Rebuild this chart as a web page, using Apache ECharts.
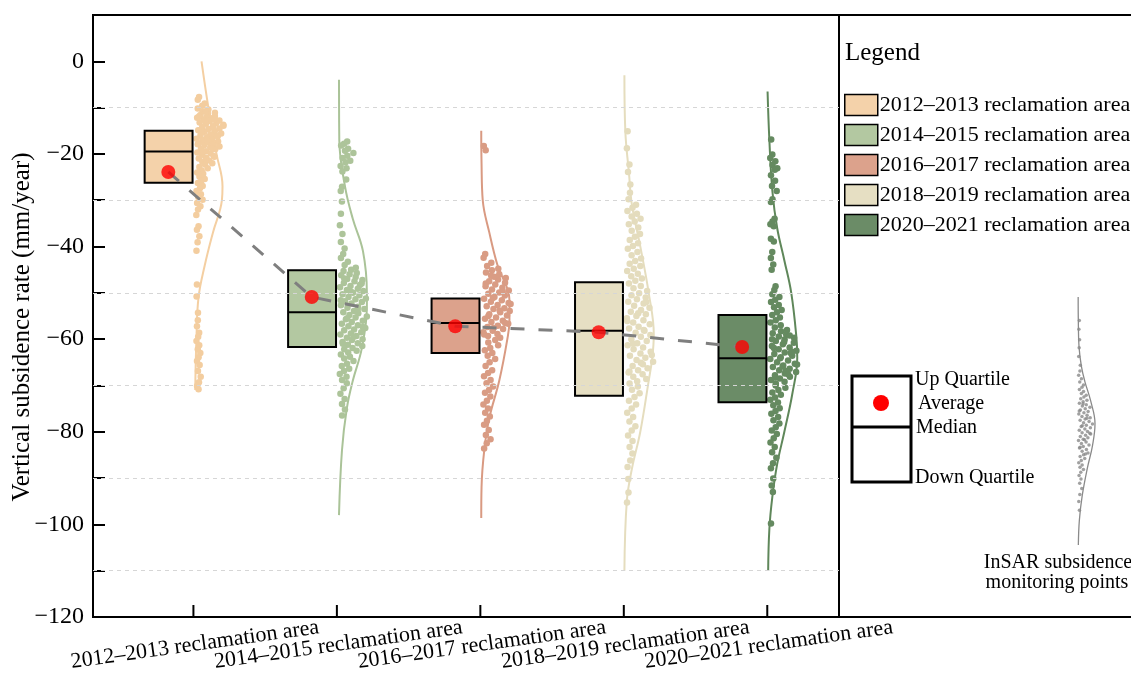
<!DOCTYPE html>
<html>
<head>
<meta charset="utf-8">
<script src="https://cdn.jsdelivr.net/npm/echarts@6/dist/echarts.min.js"></script>
<style>
  html, body { margin: 0; padding: 0; background: #fff; }
  #chart { width: 1131px; height: 684px; }
</style>
</head>
<body>
<div id="chart"></div>
<script>
// ---- data ----
const categories = [
  '2012\u20132013 reclamation area',
  '2014\u20132015 reclamation area',
  '2016\u20132017 reclamation area',
  '2018\u20132019 reclamation area',
  '2020\u20132021 reclamation area'
];
const boxColors   = ['#f4d2aa', '#b3c8a1', '#dca28c', '#e6dfc3', '#6b8c67'];
const pointColors = ['#f3cd9f', '#adc49a', '#d99c84', '#e4dcbd', '#658a60'];
const curveColors = ['#f4cfa2', '#aac398', '#d99a82', '#e5ddbe', '#5f875a'];

// box statistics (mm/year)
const upQuartile   = [-15.0, -45.1, -51.2, -47.7, -54.8];
const medians      = [-19.5, -54.2, -56.5, -58.2, -64.1];
const downQuartile = [-26.2, -61.7, -63.0, -72.2, -73.6];
const averages     = [-23.9, -50.9, -57.2, -58.5, -61.7];

// y-axis levels carrying the dashed guide lines
const guideLevels = [-10, -30, -50, -70, -90, -110];

// monitoring points, subsidence rate (mm/year)
const points2012 = [
  -7.7, -8.3, -9.1, -9.6, -10.2, -10.4, -10.9, -11.1, -11.3, -11.6, -11.8, -12.0, -12.2, -12.3,
  -12.6, -12.8, -12.9, -13.2, -13.4, -13.5, -13.9, -14.0, -14.2, -14.5, -14.6, -14.9, -15.1,
  -15.2, -15.6, -15.8, -16.0, -16.1, -16.4, -16.7, -16.8, -17.0, -17.3, -17.4, -17.7, -18.0,
  -18.1, -18.4, -18.6, -18.9, -19.0, -19.4, -19.7, -19.9, -20.2, -20.5, -20.8, -21.0, -21.4,
  -21.7, -22.0, -22.3, -22.8, -23.1, -23.6, -24.0, -24.3, -24.9, -25.4, -25.8, -26.3, -26.9,
  -27.4, -28.0, -28.7, -29.3, -29.9, -10.8, -11.9, -12.5, -13.1, -13.7, -14.3, -15.4, -16.2,
  -17.1, -17.9, -18.8, -19.5, -20.6, -21.2, -30.6, -31.3, -32.0, -33.2, -35.6, -36.4, -37.8,
  -39.1, -40.9, -48.2, -50.8, -54.3, -55.9, -57.2, -58.6, -59.5, -60.4, -61.3, -62.2, -63.0,
  -63.9, -64.7, -65.6, -66.9, -68.1, -69.3, -70.1, -70.8
];
const points2014 = [
  -17.3, -17.8, -18.2, -18.9, -19.3, -19.8, -20.4, -20.9, -21.5, -21.8, -22.6, -23.1, -23.8,
  -25.5, -27.1, -28.0, -30.3, -32.9, -35.4, -37.3, -39.0, -40.4, -41.6, -42.5, -43.3, -44.0,
  -44.6, -45.0, -45.3, -45.7, -46.0, -46.2, -46.6, -47.0, -47.2, -47.5, -47.9, -48.3, -48.5,
  -48.8, -49.1, -49.4, -49.6, -50.0, -50.3, -50.5, -50.9, -51.2, -51.4, -51.8, -52.0, -52.3,
  -52.7, -53.0, -53.2, -53.5, -53.9, -54.2, -54.4, -54.8, -55.1, -55.3, -55.7, -56.0, -56.3,
  -56.7, -57.0, -57.2, -57.6, -57.9, -58.1, -58.5, -58.8, -59.0, -59.3, -59.7, -60.0, -60.2,
  -60.6, -60.9, -61.2, -61.5, -61.9, -62.2, -62.5, -62.9, -63.3, -63.8, -64.2, -64.7, -65.3,
  -65.8, -66.4, -66.9, -67.5, -68.1, -68.8, -69.5, -70.6, -71.8, -72.9, -74.0, -75.2, -76.5,
  -46.9, -48.0, -49.8, -51.6, -53.6, -55.5, -57.4, -59.5, -61.0
];
const points2016 = [
  -18.3, -19.2, -41.6, -42.4, -43.5, -44.2, -44.8, -45.1, -45.6, -46.0, -46.3, -46.8, -47.1,
  -47.5, -47.8, -48.2, -48.6, -48.9, -49.3, -49.5, -49.9, -50.2, -50.6, -50.9, -51.3, -51.6,
  -51.9, -52.2, -52.6, -52.9, -53.3, -53.5, -53.9, -54.2, -54.6, -54.9, -55.3, -55.6, -56.0,
  -56.3, -56.7, -57.1, -57.4, -57.8, -58.2, -58.5, -58.9, -59.3, -59.7, -46.5, -48.0, -49.7,
  -51.1, -52.4, -53.8, -55.0, -56.5, -57.6, -59.0, -60.2, -60.7, -61.3, -61.9, -62.4, -63.0,
  -63.6, -64.3, -65.0, -65.8, -66.7, -67.3, -68.0, -68.8, -69.5, -70.2, -71.0, -71.6, -72.4,
  -73.3, -74.1, -75.0, -75.9, -76.7, -77.6, -78.5, -79.6, -80.7, -81.6, -82.5, -83.6
];
const points2018 = [
  -15.1, -18.8, -22.3, -23.9, -26.6, -28.4, -29.8, -31.0, -31.6, -32.3, -32.9, -33.5, -34.0,
  -34.6, -35.2, -35.9, -36.6, -37.3, -37.9, -38.6, -39.3, -39.9, -40.5, -41.2, -41.9, -42.6,
  -43.1, -43.7, -44.2, -44.8, -45.3, -45.9, -46.4, -46.9, -47.4, -48.0, -48.5, -49.0, -49.6,
  -50.1, -50.5, -51.0, -51.4, -51.9, -52.3, -52.8, -53.2, -53.7, -54.1, -54.6, -55.0, -55.5,
  -55.9, -56.4, -56.8, -57.3, -57.7, -58.2, -58.6, -59.1, -59.5, -60.0, -60.4, -60.9, -61.3,
  -61.8, -62.2, -62.7, -63.1, -63.6, -64.0, -64.5, -64.9, -65.4, -65.8, -66.3, -66.7, -67.2,
  -67.6, -68.1, -68.6, -69.1, -69.6, -52.0, -54.4, -56.1, -58.0, -61.0, -63.4, -65.1, -67.0,
  -70.2, -70.9, -71.7, -72.5, -73.3, -74.1, -75.0, -75.9, -76.8, -77.8, -78.8, -79.7, -80.8,
  -82.0, -83.3, -84.7, -86.2, -87.6, -90.2, -93.1, -95.3
];
const points2020 = [
  -16.9, -20.1, -20.9, -21.6, -22.4, -23.1, -23.4, -24.6, -25.8, -26.9, -28.0, -29.8, -30.4,
  -34.0, -34.6, -35.2, -35.6, -38.3, -38.9, -41.2, -42.5, -43.9, -45.0, -48.6, -49.4, -50.3,
  -50.9, -51.5, -52.0, -52.6, -53.1, -53.7, -54.2, -54.8, -55.3, -55.9, -56.4, -57.0, -57.5,
  -58.0, -58.3, -58.7, -59.0, -59.4, -59.7, -60.1, -60.4, -60.8, -61.1, -61.5, -61.8, -62.2,
  -62.5, -62.9, -63.2, -63.6, -63.9, -64.3, -64.6, -65.0, -65.3, -65.7, -66.0, -66.4, -66.7,
  -67.1, -67.4, -67.8, -68.1, -68.5, -68.8, -69.2, -69.6, -59.2, -60.6, -61.9, -63.0, -64.1,
  -65.5, -66.9, -68.3, -62.7, -65.9, -60.0, -67.6, -70.0, -70.5, -71.0, -71.5, -72.0, -72.6,
  -73.1, -73.7, -74.3, -74.9, -75.5, -76.1, -76.8, -77.5, -78.2, -79.0, -79.7, -80.5, -81.4,
  -82.3, -83.3, -84.4, -85.6, -86.8, -87.9, -90.1, -91.6, -93.0, -99.8
];

// half-violin outlines: [rate, relative density]
const density2012 = [[0, 0.27], [-10, 0.5], [-20, 0.77], [-27, 0.97], [-30, 0.95], [-37, 0.65],
  [-44, 0.38], [-51, 0.17], [-60, 0.1], [-71, 0.06]];
const density2014 = [[-4, 0.07], [-17, 0.08], [-27, 0.27], [-34, 0.53], [-41, 0.87], [-50, 1.0],
  [-53, 1.0], [-62, 0.83], [-69, 0.53], [-75, 0.33], [-84, 0.17], [-98, 0.07]];
const density2016 = [[-15, 0.03], [-22, 0.04], [-30, 0.08], [-37, 0.3], [-44, 0.57], [-51.5, 0.97],
  [-56, 0.97], [-60, 0.9], [-69, 0.63], [-77, 0.3], [-84, 0.13], [-92, 0.04], [-98.6, 0.03]];
const density2018 = [[-3, 0.02], [-15, 0.05], [-24, 0.17], [-31, 0.27], [-40, 0.55], [-50, 0.83],
  [-59, 1.0], [-64, 0.95], [-69, 0.83], [-80, 0.55], [-88, 0.27], [-95, 0.1], [-110, 0.02]];
const density2020 = [[-6.5, 0.01], [-17, 0.07], [-28, 0.17], [-36, 0.33], [-43, 0.57], [-50, 0.8],
  [-59.5, 0.97], [-64, 1.0], [-72, 0.83], [-80, 0.57], [-87, 0.33], [-94, 0.17], [-101, 0.07], [-110, 0.03]];

// key sample drawn in the legend panel
const samplePoints = [
  -9.5, -13.0, -17.2, -20.5, -24.0, -27.5, -29.8, -31.6, -33.0, -34.3, -35.5, -36.4, -37.3, -38.1,
  -38.9, -39.6, -40.3, -41.0, -41.6, -42.2, -42.8, -43.4, -44.0, -44.5, -45.1, -45.6, -46.2, -46.7,
  -47.2, -47.7, -48.2, -48.7, -49.2, -49.7, -50.2, -50.7, -51.2, -51.7, -52.2, -52.7, -53.2, -53.7,
  -54.2, -54.7, -55.2, -55.7, -56.3, -56.8, -57.4, -57.9, -58.5, -59.1, -59.7, -60.3, -60.9, -61.5,
  -62.2, -62.9, -63.6, -64.3, -65.1, -65.9, -66.8, -67.7, -68.6, -69.6, -70.7, -72.0, -73.4, -75.1,
  -77.2, -79.6, -82.5, -86.0, -43.0, -46.0, -48.9, -51.9, -54.9, -57.6, -60.6, -63.3
];
const sampleDensity = [[0, 0.01], [-10, 0.02], [-20, 0.06], [-28, 0.2], [-34, 0.4], [-42, 0.75],
  [-51, 1.0], [-60, 0.85], [-69, 0.55], [-80, 0.25], [-90, 0.08], [-100, 0.02]];

// ---- layout constants ----
const FONT = '"Liberation Serif", "Times New Roman", serif';
const Y_MIN = -120, Y_MAX = 10;
const BOX_LEFT = 0.34;     // box spans [pos - BOX_LEFT, pos - BOX_RIGHT]
const BOX_RIGHT = 0.006;
const MEAN_SHIFT = 0.175;  // average marker sits in the middle of the box
const CURVE_W = 0.209;     // width of the half-violin at peak density
const SWARM_W = 0.2;       // max horizontal spread of the point cloud
const SWARM_MIN = 0.02;
const LABEL_ROTATE = 8;    // degrees, category labels under the axis

const groups = [points2012, points2014, points2016, points2018, points2020];
const densities = [density2012, density2014, density2016, density2018, density2020];

// spread points sideways in proportion to how crowded their neighbourhood is
function swarm(values, pos, seed, width, minOff) {
  const counts = values.map(v => values.filter(w => Math.abs(w - v) <= 2.5).length);
  const maxN = Math.max.apply(null, counts);
  return values.map((v, i) => {
    const u = ((i + 1) * 0.6180339887 + seed) % 1;
    return [pos + minOff + u * width * counts[i] / maxN, v];
  });
}

const series = [];

// dashed guide lines
series.push({
  type: 'line', data: [], z: 0, silent: true,
  markLine: {
    silent: true, symbol: ['none', 'none'], label: { show: false },
    lineStyle: { color: '#d6d6d6', type: [4, 4], width: 1 },
    emphasis: { disabled: true },
    data: guideLevels.map(v => ({ yAxis: v }))
  }
});

// category ticks and slanted labels along the bottom edge
series.push({
  type: 'custom', z: 6, silent: true, clip: false,
  data: categories.map((c, i) => [i + 1]),
  encode: { x: 0 },
  renderItem: function (params, api) {
    const p = api.coord([api.value(0), Y_MIN]);
    return {
      type: 'group',
      children: [
        { type: 'line', shape: { x1: p[0], y1: p[1], x2: p[0], y2: p[1] - 12 },
          style: { stroke: '#000', lineWidth: 2 } },
        { type: 'text', x: p[0], y: p[1] + 17, rotation: LABEL_ROTATE * Math.PI / 180,
          style: { text: categories[params.dataIndex], font: '22px ' + FONT, fill: '#000',
                   align: 'center', verticalAlign: 'top' } }
      ]
    };
  }
});

groups.forEach((vals, i) => {
  const pos = i + 1;
  series.push({
    type: 'line', smooth: 0.4, symbol: 'none', silent: true, z: 1,
    lineStyle: { color: curveColors[i], width: 2 },
    data: densities[i].map(d => [pos + d[1] * CURVE_W, d[0]])
  });
  series.push({
    type: 'scatter', silent: true, z: 2, symbolSize: 6.5,
    itemStyle: { color: pointColors[i], opacity: 1 },
    data: swarm(vals, pos, i * 0.29, SWARM_W, SWARM_MIN)
  });
});

// quartile boxes with median
categories.forEach((name, i) => {
  series.push({
    name: name, type: 'custom', z: 3, silent: true,
    itemStyle: { color: boxColors[i] },
    encode: { x: 0, y: [1, 2, 3] },
    data: [[i + 1, upQuartile[i], medians[i], downQuartile[i]]],
    renderItem: function (params, api) {
      const x = api.value(0);
      const a = api.coord([x - BOX_LEFT, api.value(1)]);
      const b = api.coord([x - BOX_RIGHT, api.value(3)]);
      const m = api.coord([x, api.value(2)]);
      return {
        type: 'group',
        children: [
          { type: 'rect', shape: { x: a[0], y: a[1], width: b[0] - a[0], height: b[1] - a[1] },
            style: { fill: boxColors[i], stroke: '#000', lineWidth: 2 } },
          { type: 'line', shape: { x1: a[0], y1: m[1], x2: b[0], y2: m[1] },
            style: { stroke: '#000', lineWidth: 2 } }
        ]
      };
    }
  });
});

const meanData = averages.map((v, i) => [i + 1 - MEAN_SHIFT, v]);
series.push({
  type: 'line', z: 4, silent: true, symbol: 'none',
  lineStyle: { color: '#7f7f7f', width: 3, type: [14, 14] },
  data: meanData
});
series.push({
  type: 'scatter', z: 5, silent: true, symbolSize: 14,
  itemStyle: { color: '#ff0000' },
  data: meanData
});

// key sample in the legend panel
series.push({
  type: 'line', xAxisIndex: 2, yAxisIndex: 2, smooth: 0.4, symbol: 'none', silent: true,
  lineStyle: { color: '#8a8a8a', width: 1.3 },
  data: sampleDensity.map(d => [d[1], d[0]])
});
series.push({
  type: 'scatter', xAxisIndex: 2, yAxisIndex: 2, silent: true, symbolSize: 3.5,
  itemStyle: { color: '#8a8a8a' },
  data: swarm(samplePoints, 0, 0.1, 0.85, 0.03)
});

const option = {
  backgroundColor: '#fff',
  animation: false,
  grid: [
    { left: 93, right: 292, top: 15, bottom: 67, show: true, borderColor: '#000', borderWidth: 2,
      outerBoundsMode: 'none', containLabel: false },
    { left: 839, right: -20, top: 15, bottom: 67, show: true, borderColor: '#000', borderWidth: 2,
      outerBoundsMode: 'none', containLabel: false },
    { left: 1078, width: 17, top: 297, height: 248, outerBoundsMode: 'none', containLabel: false }
  ],
  xAxis: [
    {
      gridIndex: 0, type: 'value', min: 0.3, max: 5.5,
      splitLine: { show: false },
      axisLine: { show: false, onZero: false },
      axisTick: { show: false },
      axisLabel: { show: false }
    },
    { gridIndex: 1, type: 'value', show: false, min: 0, max: 1 },
    { gridIndex: 2, type: 'value', show: false, min: 0, max: 1 }
  ],
  yAxis: [
    {
      gridIndex: 0, type: 'value', min: Y_MIN, max: Y_MAX, interval: 10,
      name: 'Vertical subsidence rate (mm/year)', nameLocation: 'middle', nameGap: 58,
      nameMoveOverlap: false,
      nameTextStyle: { fontFamily: FONT, fontSize: 25, color: '#000', padding: [0, 22, 0, 0] },
      splitLine: { show: false },
      axisLine: { show: false, onZero: false },
      axisTick: { show: true, inside: true, length: 12, lineStyle: { color: '#000', width: 2 } },
      axisLabel: {
        margin: 9, fontFamily: FONT, fontSize: 24, color: '#000',
        formatter: v => (v % 20 === 0 && v <= 0) ? String(v).replace('-', '\u2212') : ''
      }
    },
    { gridIndex: 1, type: 'value', show: false, min: 0, max: 1 },
    { gridIndex: 2, type: 'value', show: false, min: -100, max: 0 }
  ],
  legend: {
    data: categories, orient: 'vertical', left: 844, top: 93, padding: 0,
    icon: 'rect', itemWidth: 33, itemHeight: 21, itemGap: 6, selectedMode: false,
    itemStyle: { borderColor: '#000', borderWidth: 1.5 },
    textStyle: { fontFamily: FONT, fontSize: 22, color: '#000', lineHeight: 24, padding: [0, 0, 0, -3] }
  },
  graphic: [
    { type: 'text', left: 845, top: 41, style: { text: 'Legend', font: '25px ' + FONT, fill: '#000' } },
    { type: 'rect', shape: { x: 852, y: 376, width: 59, height: 106 },
      style: { fill: '#fff', stroke: '#000', lineWidth: 3 } },
    { type: 'line', shape: { x1: 852, y1: 427, x2: 911, y2: 427 }, style: { stroke: '#000', lineWidth: 3 } },
    { type: 'circle', shape: { cx: 881, cy: 403, r: 8 }, style: { fill: '#ff0000' } },
    { type: 'text', x: 915, y: 380, style: { text: 'Up Quartile', font: '20px ' + FONT, fill: '#000', verticalAlign: 'middle' } },
    { type: 'text', x: 918, y: 404, style: { text: 'Average', font: '20px ' + FONT, fill: '#000', verticalAlign: 'middle' } },
    { type: 'text', x: 916, y: 428, style: { text: 'Median', font: '20px ' + FONT, fill: '#000', verticalAlign: 'middle' } },
    { type: 'text', x: 915, y: 478, style: { text: 'Down Quartile', font: '20px ' + FONT, fill: '#000', verticalAlign: 'middle' } },
    { type: 'text', x: 1058, y: 563, style: { text: 'InSAR subsidence', font: '20px ' + FONT, fill: '#000', align: 'center', verticalAlign: 'middle' } },
    { type: 'text', x: 1057, y: 583, style: { text: 'monitoring points', font: '20px ' + FONT, fill: '#000', align: 'center', verticalAlign: 'middle' } }
  ],
  series: series
};

const chart = echarts.init(document.getElementById('chart'), null, { renderer: 'canvas' });
chart.setOption(option);
</script>
</body>
</html>
